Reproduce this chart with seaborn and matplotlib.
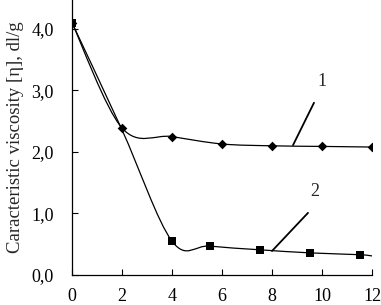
import numpy as np
import matplotlib
matplotlib.use("Agg")
import matplotlib.pyplot as plt
from matplotlib.path import Path
from matplotlib.patches import PathPatch
import pandas as pd
import seaborn as sns

# curve 1 (diamonds)
x1 = [0, 2, 4, 6, 8, 10, 12]
y1 = [4.10, 2.39, 2.25, 2.13, 2.10, 2.09, 2.08]
# curve 2 (squares); the point at x=2 sits under the diamond
x2 = [0, 2, 4, 5.5, 7.5, 9.5, 11.5, 12]
y2 = [4.10, 2.36, 0.55, 0.47, 0.41, 0.36, 0.33, 0.31]
x2_marked = [4, 5.5, 7.5, 9.5, 11.5]

x_ticks = [0, 2, 4, 6, 8, 10, 12]
y_ticks = [0.0, 1.0, 2.0, 3.0, 4.0]
y_ticklabels = ["0,0", "1,0", "2,0", "3,0", "4,0"]


def smooth_path(xs, ys):
    # Excel-like smoothed line: cubic bezier segments, Catmull-Rom control points
    pts = np.column_stack([xs, ys]).astype(float)
    n = len(pts)
    verts = [pts[0]]
    codes = [Path.MOVETO]
    for i in range(n - 1):
        p0 = pts[i - 1] if i > 0 else pts[i]
        p1 = pts[i]
        p2 = pts[i + 1]
        p3 = pts[i + 2] if i + 2 < n else pts[i + 1]
        c1 = p1 + (p2 - p0) / 6.0
        c2 = p2 - (p3 - p1) / 6.0
        verts += [c1, c2, p2]
        codes += [Path.CURVE4] * 3
    return Path(verts, codes)


sns.set_style("ticks")
plt.rcParams["font.family"] = ["Liberation Serif", "DejaVu Serif"]

fig = plt.figure(figsize=(3.81, 3.05), dpi=100)
ax = fig.add_axes([72 / 381, 30 / 305, 300 / 381, 275 / 305])

for xs, ys in [(x1, y1), (x2, y2)]:
    ax.add_patch(PathPatch(smooth_path(xs, ys), fill=False, edgecolor="black",
                           linewidth=0.9, transform=ax.transData, zorder=2))

df1 = pd.DataFrame({"x": x1, "y": y1})
df2 = pd.DataFrame({"x": [0] + x2_marked, "y": [y2[0]] + [y2[x2.index(v)] for v in x2_marked]})
sns.scatterplot(data=df1, x="x", y="y", marker="D", s=24, color="black",
                edgecolor="black", linewidth=0, ax=ax, zorder=3)
sns.scatterplot(data=df2, x="x", y="y", marker="s", s=28, color="black",
                edgecolor="black", linewidth=0, ax=ax, zorder=3)

# curve labels with leader lines
ax.text(10.0, 3.15, "1", fontsize=13, ha="center", va="center")
ax.annotate("", xy=(8.84, 2.11), xytext=(9.68, 2.80),
            arrowprops=dict(arrowstyle="-", color="black", lw=1.3, shrinkA=0, shrinkB=0))
ax.text(9.72, 1.35, "2", fontsize=13, ha="center", va="center")
ax.annotate("", xy=(8.0, 0.39), xytext=(9.44, 1.01),
            arrowprops=dict(arrowstyle="-", color="black", lw=1.3, shrinkA=0, shrinkB=0))

ax.set_xlim(0, 12)
ax.set_ylim(0, 4.47)
ax.set_xticks(x_ticks)
ax.set_yticks(y_ticks)
ax.set_yticklabels(y_ticklabels)
ax.set_xlabel("")
ax.set_ylabel("Caracteristic viscosity [\u03b7], dl/g", fontsize=13.5, labelpad=5)
ax.tick_params(direction="in", length=4, width=0.8, colors="black", labelsize=13)
ax.tick_params(axis="y", pad=13)
ax.tick_params(axis="x", pad=9.5)
for side in ["top", "right"]:
    ax.spines[side].set_visible(False)
for side in ["left", "bottom"]:
    ax.spines[side].set_linewidth(0.9)
    ax.spines[side].set_color("black")
for lab in ax.get_xticklabels() + ax.get_yticklabels():
    lab.set_clip_on(False)

fig.savefig("out.png", dpi=100)
